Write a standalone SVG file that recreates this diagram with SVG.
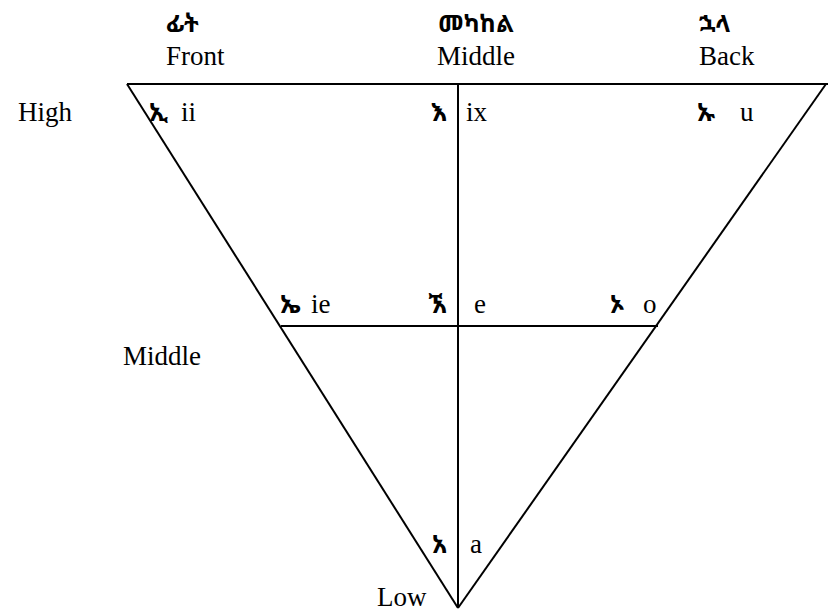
<svg xmlns="http://www.w3.org/2000/svg" width="828" height="615" viewBox="0 0 828 615">
<style>
.t{font-family:"Liberation Serif","Times New Roman","DejaVu Serif",serif;font-size:27px;fill:#000}
.e{font-family:"Noto Sans Ethiopic","Abyssinica SIL","Noto Serif Ethiopic","DejaVu Sans",sans-serif;font-size:25px;font-weight:bold;fill:#000}
.h{font-size:24px}
.ln{stroke:#000;stroke-width:2;fill:none}
</style>
<rect width="828" height="615" fill="#fff"/>
<g id="connectors">
<line class="ln" x1="127" y1="84" x2="828" y2="84"/>
<line class="ln" x1="127" y1="84" x2="458" y2="608"/>
<line class="ln" x1="826" y1="84" x2="458" y2="608"/>
<line class="ln" x1="458" y1="84" x2="458" y2="608"/>
<line class="ln" x1="281" y1="326" x2="658" y2="326"/>
</g>
<g id="col-front"><text class="e h" x="166" y="32">ፊት</text><text class="t" x="166" y="65">Front</text></g>
<g id="col-middle"><text class="e h" x="476" y="32" text-anchor="middle">መካከል</text><text class="t" x="476" y="65" text-anchor="middle">Middle</text></g>
<g id="col-back"><text class="e h" x="699" y="32">ኋላ</text><text class="t" x="699" y="65">Back</text></g>
<g id="row-high"><text class="t" x="18" y="121">High</text></g>
<g id="row-middle"><text class="t" x="123" y="365">Middle</text></g>
<g id="row-low"><text class="t" x="377" y="606">Low</text></g>
<g id="v-ii"><text class="e" x="149" y="121">ኢ</text><text class="t" x="181" y="121">ii</text></g>
<g id="v-ix"><text class="e" x="447" y="121" text-anchor="end">እ</text><text class="t" x="466" y="121">ix</text></g>
<g id="v-u"><text class="e" x="697" y="121">ኡ</text><text class="t" x="740" y="121">u</text></g>
<g id="v-ie"><text class="e" x="280" y="313">ኤ</text><text class="t" x="311" y="313">ie</text></g>
<g id="v-e"><text class="e" x="447" y="313" text-anchor="end">ኧ</text><text class="t" x="474" y="313">e</text></g>
<g id="v-o"><text class="e" x="610" y="313">ኦ</text><text class="t" x="643" y="313">o</text></g>
<g id="v-a"><text class="e" x="447" y="553" text-anchor="end">አ</text><text class="t" x="470" y="553">a</text></g>
</svg>
